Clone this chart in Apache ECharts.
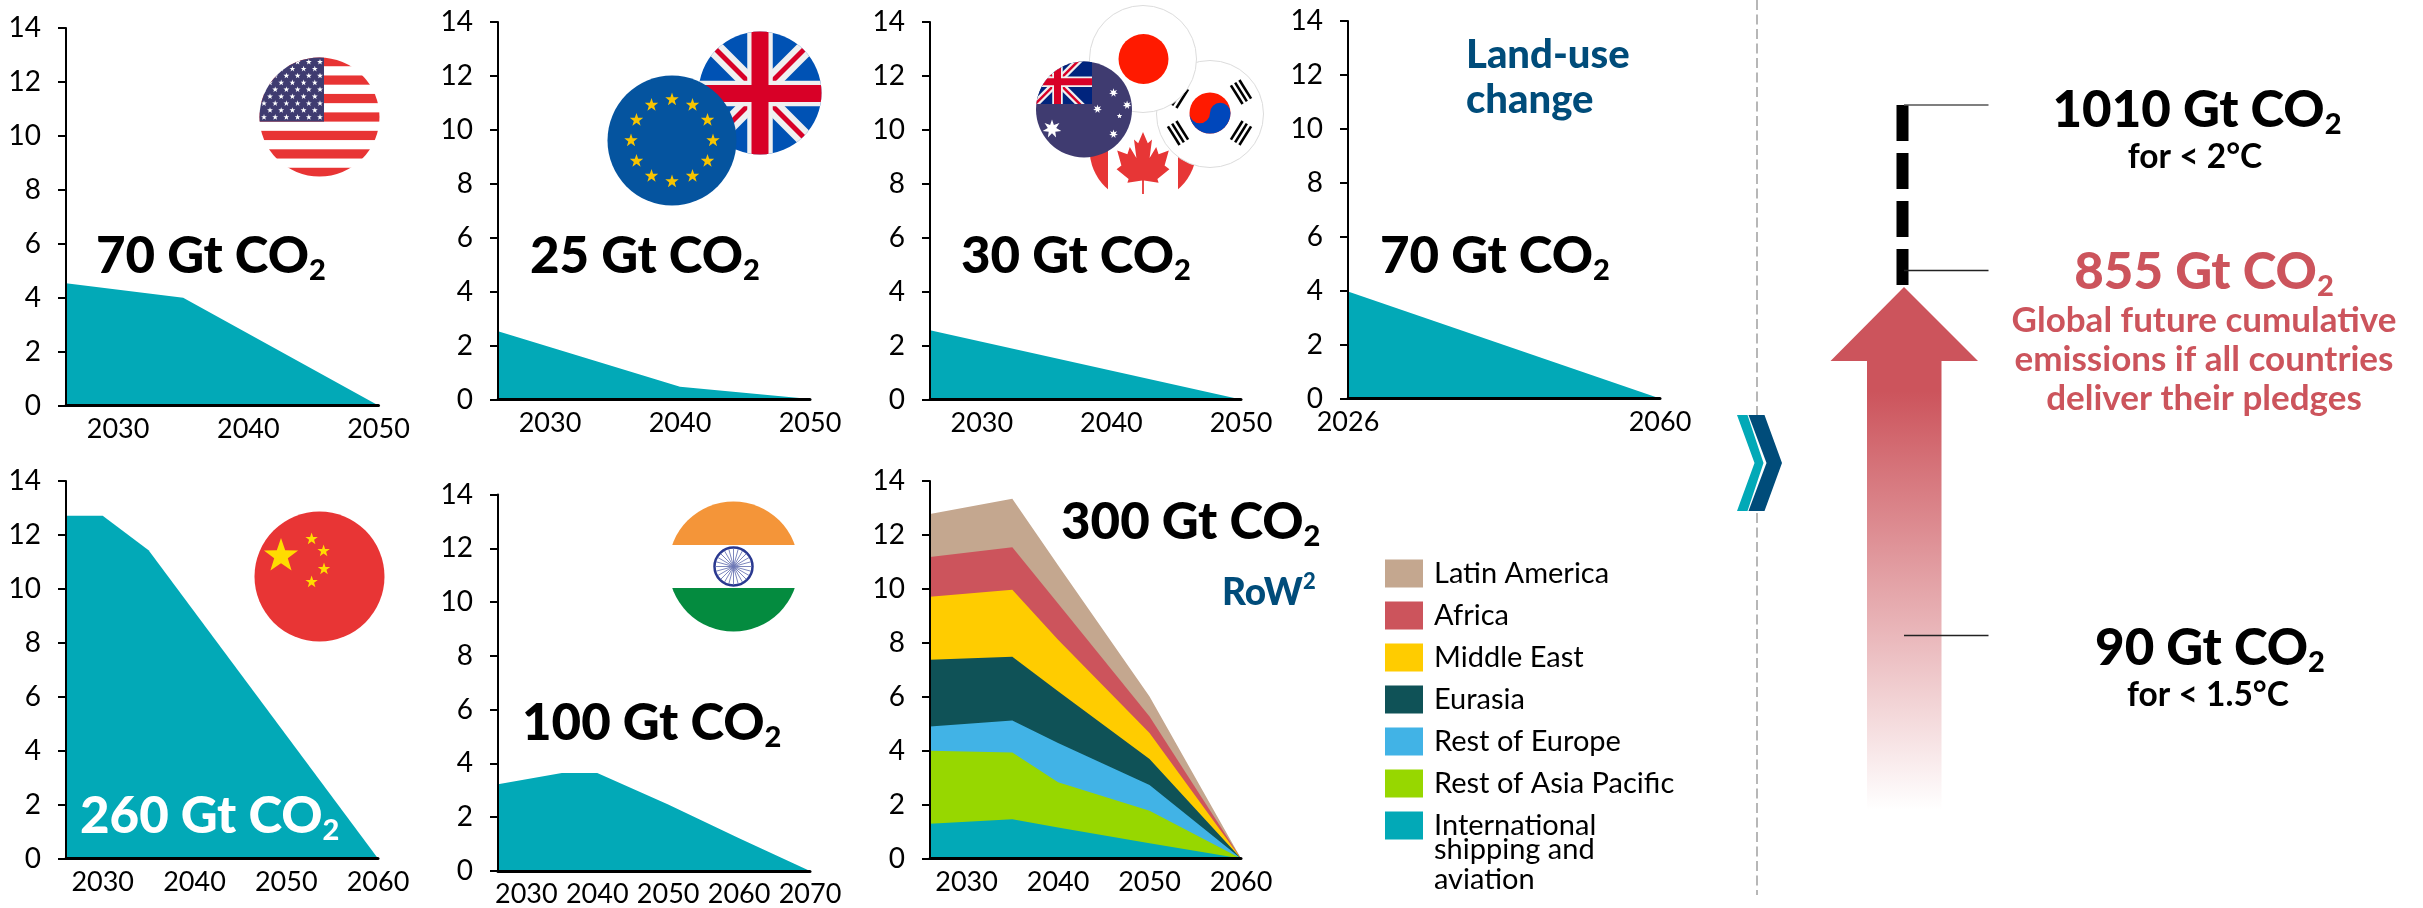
<!DOCTYPE html>
<html>
<head>
<meta charset="utf-8">
<style>html,body{margin:0;padding:0;background:#fff}#chart{width:2423px;height:908px}</style>
<script src="https://cdn.jsdelivr.net/npm/echarts@6/dist/echarts.min.js"></script>
</head>
<body>
<div id="chart"></div>
<script>
// Emission pathways, Gt CO2 per year
const usYears = [2026, 2035, 2050];
const usValues = [4.53, 4.0, 0];
const euYears = [2026, 2040, 2050];
const euValues = [2.53, 0.47, 0.02];
const otherYears = [2026, 2050];
const otherValues = [2.57, 0];
const landYears = [2026, 2060];
const landValues = [3.97, 0];
const chinaYears = [2026, 2030, 2035, 2060];
const chinaValues = [12.71, 12.71, 11.43, 0];
const indiaYears = [2026, 2035, 2040, 2050, 2060, 2070];
const indiaValues = [3.23, 3.64, 3.64, 2.47, 1.22, 0];

const rowYears = [2026, 2035, 2040, 2050, 2060];
const rowShipping = [1.29, 1.46, 1.15, 0.57, 0];
const rowAsiaPacific = [2.71, 2.47, 1.68, 1.20, 0];
const rowEurope = [0.90, 1.19, 1.45, 0.96, 0];
const rowEurasia = [2.47, 2.36, 1.92, 0.96, 0];
const rowMiddleEast = [2.34, 2.49, 1.91, 0.96, 0];
const rowAfrica = [1.47, 1.57, 1.35, 0.62, 0];
const rowLatinAmerica = [1.60, 1.80, 1.42, 0.74, 0];

const rowNames = ['International shipping and aviation', 'Rest of Asia Pacific', 'Rest of Europe', 'Eurasia', 'Middle East', 'Africa', 'Latin America'];
const yTicks = [0, 2, 4, 6, 8, 10, 12, 14];
const ticksTo2050 = [2030, 2040, 2050];
const ticksLand = [2026, 2060];
const ticksTo2060 = [2030, 2040, 2050, 2060];
const ticksTo2070 = [2030, 2040, 2050, 2060, 2070];
const budgetLabels = ['70 Gt CO', '25 Gt CO', '30 Gt CO', '70 Gt CO', '260 Gt CO', '100 Gt CO', '300 Gt CO'];

const TEAL = '#02A9B7', NAVY = '#004C7A', ROSE = '#CC545C';
const rowColors = [TEAL, '#97D700', '#41B3E6', '#0F5257', '#FFCC00', ROSE, '#C4A78F'];
const FONT = 'Lato';
const HEAD = 51;

// Frame of each small chart: left, top, right, bottom
const frames = [
  [66, 28, 378.5, 405.5], [498, 22, 810, 399.5], [930, 22, 1241, 399.5], [1348, 21, 1660, 398.5],
  [66, 481, 378, 858.5], [498, 494.5, 810, 872], [930, 481, 1241, 858.5]
];
const ranges = [[2026, 2050], [2026, 2050], [2026, 2050], [2026, 2060], [2026, 2060], [2026, 2070], [2026, 2060]];
const xTicks = [ticksTo2050, ticksTo2050, ticksTo2050, ticksLand, ticksTo2060, ticksTo2070, ticksTo2060];

const grid = [], xAxis = [], yAxis = [];
frames.forEach(function (f, i) {
  grid.push({ left: f[0], top: f[1], width: f[2] - f[0], height: f[3] - f[1], containLabel: false });
  xAxis.push({
    type: 'value', gridIndex: i, min: ranges[i][0], max: ranges[i][1], z: 5,
    splitLine: { show: false },
    axisLine: { show: true, onZero: false, lineStyle: { color: '#000', width: 3 } },
    axisTick: { show: false },
    axisLabel: {
      customValues: xTicks[i], margin: 10, color: '#000', fontFamily: FONT, fontSize: 27,
      formatter: function (v) { return String(v); }
    }
  });
  yAxis.push({
    type: 'value', gridIndex: i, min: 0, max: 14, interval: 2, z: 5,
    splitLine: { show: false },
    axisLine: { show: true, lineStyle: { color: '#000', width: 2 } },
    axisTick: { show: true, length: 8, lineStyle: { color: '#000', width: 2 } },
    axisLabel: {
      customValues: yTicks, margin: 25, color: '#000', fontFamily: FONT, fontSize: 28
    }
  });
});

function area(i, years, values, name, color) {
  return {
    type: 'line', name: name, xAxisIndex: i, yAxisIndex: i, z: 2,
    data: years.map(function (y, k) { return [y, values[k]]; }),
    symbol: 'none', silent: true,
    lineStyle: { width: 0, color: color },
    itemStyle: { color: color },
    areaStyle: { color: color, opacity: 1 }
  };
}

const series = [
  area(0, usYears, usValues, 'United States', TEAL),
  area(1, euYears, euValues, 'EU and UK', TEAL),
  area(2, otherYears, otherValues, 'Japan, Korea, Canada, Australia', TEAL),
  area(3, landYears, landValues, 'Land-use change', TEAL),
  area(4, chinaYears, chinaValues, 'China', TEAL),
  area(5, indiaYears, indiaValues, 'India', TEAL)
];

// Rest-of-world bands: each band is drawn down to the axis from its running total,
// tallest first, so the nearer bands cover what lies below them.
const rowBands = [rowShipping, rowAsiaPacific, rowEurope, rowEurasia, rowMiddleEast, rowAfrica, rowLatinAmerica];
const rowTotals = [];
rowBands.forEach(function (vals, k) {
  rowTotals.push(vals.map(function (v, j) { return v + (k ? rowTotals[k - 1][j] : 0); }));
});
for (let k = rowBands.length - 1; k >= 0; k--) {
  series.push(area(6, rowYears, rowTotals[k], rowNames[k], rowColors[k]));
}

// ---- Flags, built as small inline SVG images ----
function starPts(cx, cy, r, n, inner) {
  n = n || 5; inner = inner || 0.4;
  const p = [];
  for (let i = 0; i < n * 2; i++) {
    const a = -Math.PI / 2 + i * Math.PI / n, q = i % 2 ? r * inner : r;
    p.push((cx + q * Math.cos(a)).toFixed(1) + ',' + (cy + q * Math.sin(a)).toFixed(1));
  }
  return p.join(' ');
}
function star(cx, cy, r, fill, n, inner) {
  return '<polygon points="' + starPts(cx, cy, r, n, inner) + '" fill="' + fill + '"/>';
}
function rect(x, y, w, h, fill) {
  return '<rect x="' + x + '" y="' + y + '" width="' + w + '" height="' + h + '" fill="' + fill + '"/>';
}
function svgFlag(w, h, body, outline) {
  const rx = w / 2 - 0.5, ry = h / 2 - 0.5;
  const e = 'cx="' + w / 2 + '" cy="' + h / 2 + '" rx="' + rx + '" ry="' + ry + '"';
  const svg = '<svg xmlns="http://www.w3.org/2000/svg" width="' + w + '" height="' + h + '" viewBox="0 0 ' + w + ' ' + h + '">' +
    '<defs><clipPath id="c"><ellipse ' + e + '/></clipPath></defs>' +
    (outline ? '<ellipse ' + e + ' fill="#fff"/>' : '') +
    '<g clip-path="url(#c)">' + body + '</g>' +
    (outline ? '<ellipse ' + e + ' fill="none" stroke="#dcdcdc" stroke-width="1"/>' : '') + '</svg>';
  return 'data:image/svg+xml;charset=utf-8,' + encodeURIComponent(svg);
}
function unionJack(cx, cy, size, wide, thin) {
  const d = size;
  const l = function (x1, y1, x2, y2, c, sw) {
    return '<line x1="' + x1 + '" y1="' + y1 + '" x2="' + x2 + '" y2="' + y2 + '" stroke="' + c + '" stroke-width="' + sw + '"/>';
  };
  return l(cx - d, cy - d, cx + d, cy + d, '#F0F0F0', wide) + l(cx - d, cy + d, cx + d, cy - d, '#F0F0F0', wide) +
    l(cx - d, cy - d, cx + d, cy + d, '#D80027', thin) + l(cx - d, cy + d, cx + d, cy - d, '#D80027', thin) +
    l(cx, cy - d, cx, cy + d, '#F0F0F0', wide * 1.5) + l(cx - d, cy, cx + d, cy, '#F0F0F0', wide * 1.5) +
    l(cx, cy - d, cx, cy + d, '#D80027', wide) + l(cx - d, cy, cx + d, cy, '#D80027', wide);
}

function flagUS() {
  let b = '';
  for (let i = 0; i < 13; i += 2) b += rect(0, i * 9.23, 121, 9.23, '#E83434');
  b += rect(0, 0, 65, 64.6, '#3F3B70');
  for (let r = 0; r < 9; r++) {
    const n = r % 2 ? 5 : 6, off = r % 2 ? 11 : 5;
    for (let c = 0; c < n; c++) b += star(off + c * 11.2, 5 + r * 6.9, 3.1, '#fff');
  }
  return svgFlag(121, 120, b);
}
function flagEU() {
  let b = rect(0, 0, 130, 131, '#05549F');
  for (let i = 0; i < 12; i++) {
    const a = i * Math.PI / 6;
    b += star(65 + 41 * Math.cos(a), 65.5 + 41 * Math.sin(a), 7, '#F8C400');
  }
  return svgFlag(130, 131, b);
}
function flagUK() {
  const b = rect(0, 0, 124, 124, '#0052B4') + unionJack(62, 62.5, 90, 17, 5);
  return svgFlag(124, 124, b);
}
function flagJapan() {
  return svgFlag(108, 108, '<ellipse cx="54.5" cy="54" rx="25" ry="25" fill="#FF1A00"/>', true);
}
function flagKorea() {
  const bars = function (x, y, rot) {
    let s = '<g transform="translate(' + x + ' ' + y + ') rotate(' + rot + ')">';
    for (let i = -1; i <= 1; i++) s += rect(-11, i * 5 - 1.3, 22, 2.6, '#000');
    return s + '</g>';
  };
  const b = bars(85, 32, 58) + bars(22, 73, 58) + bars(85, 73, -58) + bars(22, 36, -58) +
    '<circle cx="54" cy="53" r="20.5" fill="#FF1A00"/>' +
    '<path d="M33.5 53 a20.5 20.5 0 0 0 41 0 a10.25 10.25 0 0 0 -20.5 0 a10.25 10.25 0 0 1 -20.5 0 z" fill="#0047BB"/>';
  return svgFlag(108, 108, b, true);
}
function flagAustralia() {
  let b = rect(0, 0, 97, 97, '#3F3B70') +
    '<g><clipPath id="k"><rect x="0" y="0" width="56.5" height="43"/></clipPath><g clip-path="url(#k)">' +
    rect(0, 0, 57, 43, '#00247D') + unionJack(22, 20.7, 50, 7, 2.5) + '</g></g>';
  b += star(16.5, 68, 9.5, '#fff', 7, 0.45) + star(78, 31.7, 4.5, '#fff', 7, 0.45) + star(62, 48, 4.5, '#fff', 7, 0.45) +
    star(91.6, 44, 4.5, '#fff', 7, 0.45) + star(84, 55, 2.8, '#fff', 5, 0.45) + star(78, 73, 4.5, '#fff', 7, 0.45);
  return svgFlag(97, 97, b);
}
function flagCanada() {
  const half = [[0, 0], [.16, .18], [.3, .12], [.22, .42], [.44, .24], [.52, .36], [.86, .3], [.72, .54], [.88, .6], [.48, .76], [.52, .82], [.03, .78], [.03, 1]];
  const pts = half.concat(half.slice(1).reverse().map(function (p) { return [-p[0], p[1]]; }));
  const leaf = pts.map(function (p) { return (54 + p[0] * 30).toFixed(1) + ',' + (37 + p[1] * 62).toFixed(1); }).join(' ');
  const b = rect(0, 0, 108, 108, '#fff') + rect(0, 0, 19, 108, '#E73636') + rect(89, 0, 19, 108, '#E73636') +
    '<polygon points="' + leaf + '" fill="#E73636"/>';
  return svgFlag(108, 108, b);
}
function flagChina() {
  const b = rect(0, 0, 131, 131, '#E83535') + star(27, 45, 18, '#FFDC00') +
    star(57.6, 28, 6.5, '#FFDC00') + star(69.6, 40, 6.5, '#FFDC00') + star(70, 58, 6.5, '#FFDC00') + star(57.6, 71, 6.5, '#FFDC00');
  return svgFlag(131, 131, b);
}
function flagIndia() {
  let b = rect(0, 0, 131, 44, '#F49539') + rect(0, 87, 131, 44, '#048B3F') +
    '<circle cx="65.5" cy="65.5" r="19" fill="none" stroke="#2A3990" stroke-width="2.5"/>';
  for (let i = 0; i < 24; i++) {
    const a = i * Math.PI / 12;
    b += '<line x1="65.5" y1="65.5" x2="' + (65.5 + 18 * Math.cos(a)).toFixed(1) + '" y2="' + (65.5 + 18 * Math.sin(a)).toFixed(1) + '" stroke="#6D78B5" stroke-width="0.9"/>';
  }
  return svgFlag(131, 131, b);
}

function flagImg(uri, x, y, w, h, z) {
  return { type: 'image', x: x, y: y, z: z || 3, style: { image: uri, x: 0, y: 0, width: w, height: h } };
}

// ---- Text helpers ----
function budget(text, x, y, color, align) {
  return {
    type: 'text', x: x, y: y, z: 10,
    style: {
      text: '{m|' + text + '}{s|2}', align: align || 'left', verticalAlign: 'middle',
      rich: {
        m: { fontFamily: FONT, fontWeight: 900, fontSize: HEAD, lineHeight: 56, fill: color || '#000' },
        s: { fontFamily: FONT, fontWeight: 900, fontSize: 29, lineHeight: 32, verticalAlign: 'bottom', fill: color || '#000' }
      }
    }
  };
}
function plain(text, x, y, color, size, align, weight) {
  return {
    type: 'text', x: x, y: y, z: 10,
    style: { text: text, fontFamily: FONT, fontWeight: weight || 700, fontSize: size, fill: color, align: align || 'center', verticalAlign: 'middle' }
  };
}

const graphicElements = [
  flagImg(flagUS(), 259, 57, 121, 120),
  flagImg(flagUK(), 698, 31, 124, 124, 3),
  flagImg(flagEU(), 607, 75, 130, 131, 4),
  flagImg(flagCanada(), 1089, 95, 108, 108, 3),
  flagImg(flagKorea(), 1156, 60, 108, 108, 4),
  flagImg(flagJapan(), 1089, 5, 108, 108, 5),
  flagImg(flagAustralia(), 1035.5, 61, 97, 97, 6),
  flagImg(flagChina(), 254, 511, 131, 131),
  flagImg(flagIndia(), 668, 501, 131, 131),

  budget(budgetLabels[0], 96, 257),
  budget(budgetLabels[1], 530, 257),
  budget(budgetLabels[2], 961, 257),
  budget(budgetLabels[3], 1380, 257),
  budget(budgetLabels[4], 80, 817, '#fff'),
  budget(budgetLabels[5], 522, 724),
  budget(budgetLabels[6], 1061, 523),

  plain('Land-use', 1466, 55, NAVY, 40, 'left', 900),
  plain('change', 1466, 100, NAVY, 40, 'left', 900),
  {
    type: 'text', x: 1222, y: 593, z: 10,
    style: {
      text: '{m|RoW}{s|2}', align: 'left', verticalAlign: 'middle',
      rich: {
        m: { fontFamily: FONT, fontWeight: 900, fontSize: 37, lineHeight: 44, fill: NAVY },
        s: { fontFamily: FONT, fontWeight: 900, fontSize: 22, lineHeight: 26, verticalAlign: 'top', fill: NAVY }
      }
    }
  },

  // Remaining lines of the last legend entry
  plain('shipping and', 1434, 850, '#000', 29, 'left', 400),
  plain('aviation', 1434, 879.5, '#000', 29, 'left', 400),

  // Separator and chevrons
  { type: 'line', z: 1, shape: { x1: 1757, y1: 0, x2: 1757, y2: 415 }, style: { stroke: '#A0A0A0', lineWidth: 1.5, lineDash: [10, 4.5] } },
  { type: 'line', z: 1, shape: { x1: 1757, y1: 513, x2: 1757, y2: 895 }, style: { stroke: '#A0A0A0', lineWidth: 1.5, lineDash: [10, 4.5] } },
  { type: 'polygon', z: 3, shape: { points: [[1737, 415], [1747.5, 415], [1763.5, 463], [1747.5, 511], [1737, 511], [1754.5, 463]] }, style: { fill: TEAL } },
  { type: 'polygon', z: 3, shape: { points: [[1748.5, 415], [1764.5, 415], [1782, 463], [1764.5, 511], [1748.5, 511], [1766.5, 463]] }, style: { fill: NAVY } },

  // Cumulative emissions arrow
  {
    type: 'polygon', z: 2,
    shape: { points: [[1904, 287], [1978, 361], [1941.5, 361], [1941.5, 810], [1867, 810], [1867, 361], [1830.5, 361]] },
    style: {
      fill: {
        type: 'linear', x: 0, y: 0, x2: 0, y2: 1,
        colorStops: [{ offset: 0, color: ROSE }, { offset: 0.2, color: ROSE }, { offset: 1, color: '#FFFFFF' }]
      }
    }
  },
  { type: 'line', z: 3, shape: { x1: 1902.5, y1: 105, x2: 1902.5, y2: 285 }, style: { stroke: '#000', lineWidth: 12, lineDash: [36, 12] } },
  { type: 'line', z: 4, shape: { x1: 1904, y1: 105, x2: 1988.5, y2: 105 }, style: { stroke: '#555', lineWidth: 1.5 } },
  { type: 'line', z: 4, shape: { x1: 1904, y1: 270.5, x2: 1988.5, y2: 270.5 }, style: { stroke: '#222', lineWidth: 1.5 } },
  { type: 'line', z: 4, shape: { x1: 1904, y1: 635.5, x2: 1988.5, y2: 635.5 }, style: { stroke: '#222', lineWidth: 1.5 } },

  budget('1010 Gt CO', 2197, 111, '#000', 'center'),
  plain('for < 2°C', 2195, 157, '#000', 33.5),
  budget('855 Gt CO', 2204, 273, ROSE, 'center'),
  plain('Global future cumulative', 2204, 321, ROSE, 35),
  plain('emissions if all countries', 2204, 359.5, ROSE, 35),
  plain('deliver their pledges', 2204, 398.5, ROSE, 35),
  budget('90 Gt CO', 2210, 649, '#000', 'center'),
  plain('for < 1.5°C', 2208, 695, '#000', 33.5)
];

const chart = echarts.init(document.getElementById('chart'), null, { renderer: 'canvas' });
chart.setOption({
  backgroundColor: '#fff',
  animation: false,
  grid: grid,
  xAxis: xAxis,
  yAxis: yAxis,
  series: series,
  legend: {
    orient: 'vertical', left: 1385, top: 559, height: 340, itemWidth: 38, itemHeight: 28, itemGap: 13, padding: 0,
    selectedMode: false, icon: 'rect',
    textStyle: { color: '#000', fontFamily: FONT, fontSize: 29, lineHeight: 28, padding: [0, 0, 0, 6] },
    data: rowNames.slice().reverse().map(function (n) { return { name: n, icon: 'rect' }; }),
    formatter: function (n) {
      return n === rowNames[0] ? 'International' : n;
    }
  },
  graphic: { elements: graphicElements }
});
</script>
</body>
</html>
